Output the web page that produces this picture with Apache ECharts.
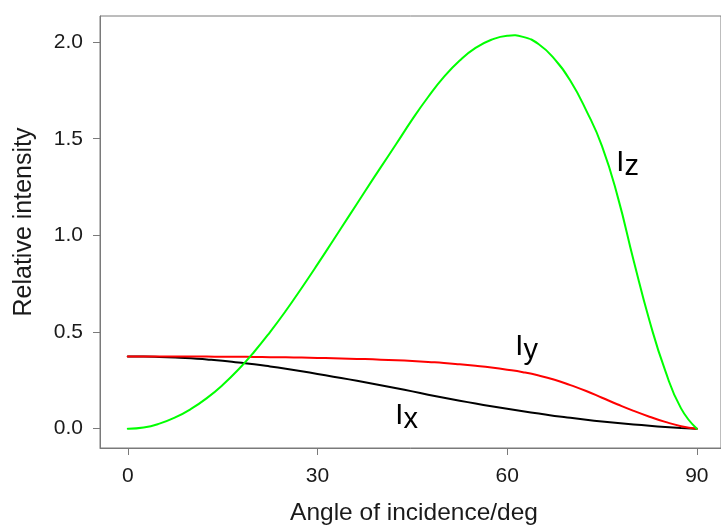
<!DOCTYPE html>
<html><head><meta charset="utf-8">
<script src="https://cdn.jsdelivr.net/npm/echarts@6/dist/echarts.min.js"></script>
<style>html,body{margin:0;padding:0;background:#fff}#c{width:721px;height:529px}</style>
</head><body><div id="c"></div>
<script>
const angles = [0,2.5,5,7.5,10,12.5,15,17.5,20,22.5,25,27.5,30,32.5,35,37.5,40,42.5,45,47.5,50,52.5,55,57.5,60,62.5,65,67.5,70,72.5,75,77.5,80,82.5,85,87.5,90];
const Ix = [0.373,0.373,0.371,0.368,0.364,0.358,0.351,0.342,0.333,0.322,0.310,0.297,0.283,0.269,0.255,0.240,0.225,0.209,0.193,0.176,0.160,0.145,0.130,0.116,0.103,0.090,0.078,0.066,0.056,0.046,0.037,0.029,0.022,0.015,0.009,0.004,0];
const Iy = [0.373,0.373,0.373,0.373,0.373,0.373,0.372,0.372,0.371,0.370,0.369,0.368,0.366,0.364,0.362,0.360,0.357,0.354,0.350,0.345,0.340,0.333,0.325,0.316,0.305,0.292,0.275,0.253,0.225,0.195,0.160,0.125,0.092,0.062,0.035,0.013,0];
const Iz = [0,0.006,0.026,0.058,0.102,0.158,0.226,0.306,0.398,0.500,0.610,0.728,0.850,0.975,1.101,1.227,1.352,1.475,1.600,1.716,1.820,1.905,1.970,2.012,2.033,2.027,1.989,1.912,1.800,1.647,1.462,1.198,0.870,0.560,0.300,0.105,0];
const xTicks = [0,30,60,90];
const yTicks = [0,0.5,1,1.5,2];
const xTitle = 'Angle of incidence/deg';
const yTitle = 'Relative intensity';
const seriesNames = ['Ix','Iy','Iz'];
const seriesColors = ['#000000','#ff0000','#00ff00'];

const FONT = "'Liberation Sans', Arial, sans-serif";
const AX = '#7a7a7a';
const TXT = '#1a1a1a';

function pairs(vals){ return angles.map((a,i)=>[a, vals[i]]); }

const chart = echarts.init(document.getElementById('c'), null, {renderer:'canvas'});

function subLabel(main, sub, x, baseline){
  const fs = 29;
  return [
    {type:'text', x:x-2.7, y:baseline-10, style:{text:main, font:`${fs}px ${FONT}`, fill:'#000', textVerticalAlign:'middle', textAlign:'left'}},
    {type:'text', x:x+5.5, y:baseline-6, style:{text:sub, font:`${fs}px ${FONT}`, fill:'#000', textVerticalAlign:'middle', textAlign:'left'}}
  ];
}

function curveSeries(vals, i){
  const data = pairs(vals);
  return {
    name:seriesNames[i], type:'custom', data:data, encode:{x:0, y:1}, clip:true, z:2+i,
    renderItem:function(params, api){
      if (params.dataIndex !== 0) return null;
      const pts = data.map(d => api.coord(d));
      return {type:'polyline', shape:{points:pts, smooth:0.5},
              style:{stroke:seriesColors[i], lineWidth:2, fill:null, lineJoin:'round', lineCap:'round'}};
    }
  };
}

const option = {
  animation:false,
  backgroundColor:'#fff',
  grid:{left:100, top:16, right:-5, bottom:81, show:true, borderColor:AX, borderWidth:1, backgroundColor:'transparent'},
  xAxis:{
    type:'value', min:-4.393, max:93.82,
    axisLine:{show:true, onZero:false, lineStyle:{color:AX, width:1}},
    axisTick:{show:true, customValues:xTicks, length:7, inside:false, lineStyle:{color:AX, width:1}},
    axisLabel:{show:true, customValues:xTicks, margin:18, color:TXT, fontSize:21, fontFamily:FONT},
    splitLine:{show:false}
  },
  yAxis:{
    type:'value', min:-0.1, max:2.135,
    axisLine:{show:true, onZero:false, lineStyle:{color:AX, width:1}},
    axisTick:{show:true, customValues:yTicks, length:7, inside:false, lineStyle:{color:AX, width:1}},
    axisLabel:{show:true, customValues:yTicks, margin:17, color:TXT, fontSize:21, fontFamily:FONT, formatter:v=>v.toFixed(1)},
    splitLine:{show:false}
  },
  series:[Ix,Iy,Iz].map(curveSeries),
  graphic:[
    {type:'text', x:414, y:513.5, style:{text:xTitle, font:`24.5px ${FONT}`, fill:TXT, textAlign:'center', textVerticalAlign:'middle'}},
    {type:'text', x:24.5, y:222, rotation:Math.PI/2, style:{text:yTitle, font:`25px ${FONT}`, fill:TXT, textAlign:'center', textVerticalAlign:'middle'}},
    ...subLabel('I','z',619,173),
    ...subLabel('I','y',518,357),
    ...subLabel('I','x',398,426)
  ]
};
chart.setOption(option);
</script>
</body></html>
